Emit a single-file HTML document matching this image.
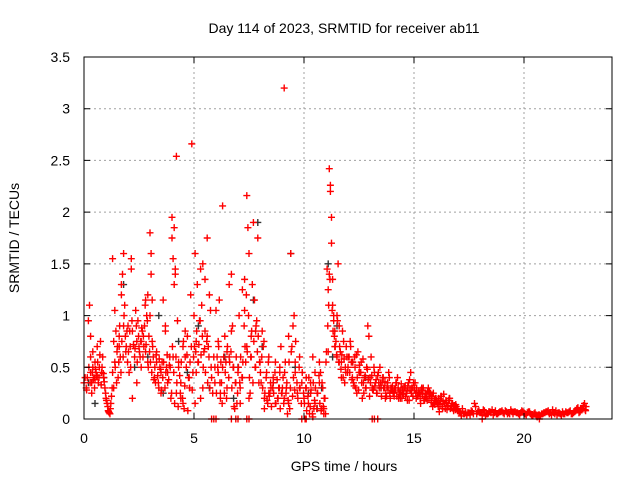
<!DOCTYPE html>
<html><head><meta charset="utf-8"><style>
body{margin:0;background:#fff}
svg text{font-family:"Liberation Sans",sans-serif;font-size:14px;fill:#000}
</style></head><body>
<svg id="chart" width="640" height="480" viewBox="0 0 640 480">
<rect width="640" height="480" fill="#fff"/>
<text x="344" y="33" text-anchor="middle">Day 114 of 2023, SRMTID for receiver ab11</text>
<g id="grid"></g>
<g id="blk"></g>
<g id="red"></g>
<rect x="84" y="57" width="528" height="362" fill="none" stroke="#000" stroke-width="1"/>
<g id="axes"></g>
<text x="344" y="471" text-anchor="middle">GPS time / hours</text>
<text transform="translate(19,238) rotate(-90)" text-anchor="middle">SRMTID / TECUs</text>
</svg>
<script>
const xTicks=[0,5,10,15,20];
const yTicks=[0,0.5,1,1.5,2,2.5,3,3.5];
const yTickLabels=["0","0.5","1","1.5","2","2.5","3","3.5"];
const redT=[0,0.1,0.15,0.2,0.25,0.3,0.3,0.35,0.4,0.45,0.5,0.55,0.6,0.65,0.7,0.75,0.8,0.85,0.9,0.95,0.3,0.35,0.4,0.5,0.6,
1.0,1.05,1.1,1.15,1.2,1.25,1.3,1.35,1.4,1.45,1.5,1.55,1.6,1.65,1.7,1.75,1.8,1.85,1.9,1.95,1.3,1.4,1.6,1.8,1.7,1.35,2.0,
2.05,2.1,2.15,2.2,2.3,2.4,2.45,2.5,2.55,2.6,2.7,2.75,2.8,2.85,2.9,2.95,2.2,2.4,2.6,2.8,2.9,2.65,2.15,2.35,
3.0,3.05,3.1,3.15,3.2,3.3,3.4,3.45,3.5,3.6,3.7,3.75,3.8,3.9,3.95,3.0,3.1,3.3,3.5,3.7,3.8,3.05,3.55,3.25,
4.0,4.05,4.1,4.15,4.2,4.25,4.3,4.4,4.5,4.55,4.6,4.7,4.8,4.85,4.9,4.95,4.0,4.1,4.2,4.3,4.5,4.6,4.75,4.05,4.15,4.4,
5.0,5.05,5.1,5.15,5.2,5.3,5.35,5.4,5.45,5.5,5.6,5.65,5.7,5.8,5.85,5.9,5.95,5.1,5.25,5.4,5.5,5.6,5.75,5.95,5.05,5.3,
6.0,6.05,6.1,6.15,6.2,6.25,6.3,6.4,6.45,6.5,6.6,6.7,6.75,6.8,6.9,6.95,6.1,6.3,6.5,6.6,6.7,6.85,6.2,
7.0,7.05,7.1,7.2,7.3,7.35,7.4,7.45,7.5,7.55,7.6,7.7,7.75,7.8,7.85,7.9,7.95,7.3,7.4,7.5,7.6,7.8,7.1,7.2,7.65,
8.0,8.05,8.1,8.2,8.3,8.35,8.4,8.5,8.6,8.7,8.8,8.85,8.9,8.95,8.2,8.4,8.6,8.7,8.9,8.15,8.45,
9.0,9.05,9.1,9.15,9.2,9.3,9.35,9.4,9.5,9.55,9.6,9.7,9.8,9.9,9.1,9.3,9.45,9.6,9.8,9.25,
10.0,10.1,10.2,10.25,10.3,10.4,10.45,10.5,10.6,10.7,10.8,10.85,10.9,10.95,10.1,10.3,10.5,10.7,10.9,10.4,10.75,
11.0,11.05,11.1,11.15,11.2,11.25,11.3,11.35,11.4,11.45,11.5,11.55,11.6,11.65,11.7,11.8,11.9,11.95,11.2,11.25,11.3,11.4,11.5,11.6,11.7,11.75,11.85,11.1,11.15,11.35,
12.0,12.1,12.2,12.3,12.4,12.5,12.6,12.7,12.8,12.9,12.05,12.25,12.45,12.65,12.85,12.15,12.35,12.55,12.75,12.95,
13.0,13.1,13.2,13.3,13.4,13.5,13.6,13.7,13.8,13.9,13.05,13.25,13.45,13.65,13.85,13.15,13.35,13.55,13.75,13.95,
14.0,14.1,14.2,14.3,14.4,14.5,14.6,14.7,14.8,14.9,14.05,14.25,14.45,14.65,14.85,14.15,14.35,14.55,14.75,14.95,
15.0,15.1,15.2,15.3,15.4,15.5,15.6,15.7,15.8,15.9,15.05,15.25,15.45,15.65,15.85,15.15,15.35,15.55,15.75,15.95,
16.0,16.1,16.2,16.3,16.4,16.5,16.6,16.7,16.8,16.9,16.05,16.25,16.45,16.65,16.85,16.15,16.35,16.55,16.75,16.95,
17.0,17.1,17.2,17.3,17.4,17.5,17.6,17.7,17.8,17.9,17.15,17.45,17.75,
18.0,18.1,18.2,18.3,18.4,18.5,18.6,18.7,18.8,18.9,18.25,18.55,18.85,
19.0,19.1,19.2,19.3,19.4,19.5,19.6,19.7,19.8,19.9,19.25,19.55,19.85,
20.0,20.1,20.2,20.3,20.4,20.5,20.6,20.7,20.8,20.9,20.25,20.55,
21.0,21.1,21.2,21.3,21.4,21.5,21.6,21.7,21.8,21.9,21.25,21.55,21.85,
22.0,22.1,22.2,22.3,22.4,22.5,22.6,22.7,22.8,22.15,22.45,22.75,22.65,
5.8,5.9,6.0,6.7,6.9,7.0,7.4,7.5,9.9,10.05,10.1,13.1,13.2,13.35,18.1,20.7];
const redV=[0.35,0.3,0.4,0.95,1.1,0.45,0.6,0.35,0.5,0.4,0.55,0.45,0.7,0.35,0.5,0.75,0.45,0.6,0.4,0.3,0.8,0.25,0.65,0.38,0.42,
0.2,0.15,0.08,0.06,0.1,0.22,0.45,0.75,0.55,0.85,0.65,0.4,0.8,0.6,1.2,1.4,0.9,1.1,0.65,0.85,1.55,1.05,0.7,1.6,1.3,0.3,
0.9,0.45,0.7,1.55,0.85,0.6,0.75,0.95,0.7,0.6,0.5,0.8,0.9,0.65,1.0,1.2,0.8,0.2,0.35,0.75,1.15,0.55,0.85,1.45,1.05,
1.8,1.4,1.15,0.6,0.4,0.55,0.3,0.5,0.45,1.15,0.9,0.5,0.35,0.6,0.2,1.0,0.75,0.65,0.25,0.85,0.45,1.6,0.55,0.35,
1.95,1.55,1.3,1.45,2.54,0.95,0.5,0.35,0.7,0.1,0.6,0.8,0.3,1.2,2.66,0.45,1.75,1.85,0.25,0.55,0.15,0.85,0.4,0.6,1.4,0.2,
1.0,1.6,0.75,1.3,0.55,1.45,1.1,1.5,0.65,0.85,1.75,0.7,1.2,0.4,0.25,0.6,0.35,0.45,0.95,0.3,1.35,0.8,1.05,0.5,0.15,0.2,
1.05,0.6,0.45,1.15,0.2,0.35,2.06,0.8,0.55,0.3,0.6,1.4,0.9,0.5,0.35,0.15,0.75,0.5,0.65,1.3,0.85,0.1,0.25,
0.45,1.0,0.3,1.25,1.35,0.55,2.16,1.85,1.6,0.25,0.8,1.9,1.15,0.5,0.95,1.75,0.35,1.05,0.7,0.2,0.6,0.85,0.15,0.4,1.3,
0.55,0.35,0.85,0.2,0.45,0.15,0.6,0.3,0.4,0.55,0.2,0.3,0.45,0.7,0.1,0.25,0.35,0.15,0.5,0.7,0.25,
0.25,0.4,3.2,0.55,0.3,0.8,0.1,1.6,0.9,1.0,0.45,0.25,0.6,0.35,0.2,0.15,0.7,0.55,0.3,0.05,
0.2,0.3,0.15,0.05,0.35,0.6,0.1,0.45,0.25,0.55,0.1,0.3,0.05,0.2,0.4,0.25,0.15,0.35,0.1,0.02,0.45,
0.55,1.45,1.25,2.42,2.2,1.7,1.35,1.0,0.85,0.75,0.6,1.5,0.9,0.65,0.55,0.75,0.45,0.6,2.26,1.95,1.1,0.7,1.0,0.55,0.4,0.85,0.35,0.65,1.4,0.95,
0.5,0.75,0.4,0.6,0.25,0.45,0.55,0.35,0.3,0.9,0.6,0.35,0.65,0.2,0.5,0.55,0.3,0.45,0.4,0.8,
0.4,0.3,0.45,0.25,0.35,0.3,0.4,0.2,0.35,0.25,0.6,0.35,0.5,0.3,0.45,0.28,0.42,0.35,0.22,0.3,
0.3,0.22,0.35,0.2,0.28,0.25,0.32,0.18,0.38,0.3,0.26,0.4,0.2,0.25,0.45,0.3,0.24,0.3,0.35,0.22,
0.3,0.2,0.25,0.15,0.28,0.22,0.18,0.26,0.2,0.15,0.35,0.25,0.18,0.3,0.12,0.22,0.3,0.2,0.25,0.14,
0.2,0.12,0.18,0.1,0.15,0.09,0.2,0.12,0.08,0.14,0.16,0.22,0.18,0.1,0.13,0.07,0.24,0.12,0.15,0.1,
0.08,0.06,0.1,0.05,0.04,0.06,0.08,0.05,0.12,0.07,0.03,0.06,0.15,
0.06,0.04,0.08,0.05,0.07,0.06,0.04,0.08,0.05,0.07,0.03,0.09,0.06,
0.08,0.05,0.07,0.06,0.09,0.05,0.07,0.06,0.04,0.08,0.05,0.07,0.06,
0.06,0.04,0.07,0.05,0.03,0.06,0.02,0.04,0.05,0.06,0.07,0.04,
0.07,0.08,0.06,0.09,0.05,0.04,0.06,0.03,0.05,0.07,0.04,0.06,0.05,
0.06,0.08,0.05,0.07,0.1,0.06,0.09,0.12,0.08,0.05,0.11,0.15,0.1,
0,0,0,0,0,0,0,0,0,0,0,0,0,0,0,0];
const redT2=[0.05,0.12,0.22,0.28,0.38,0.42,0.48,0.52,0.58,0.62,0.68,0.72,0.78,0.82,0.88,0.92,0.98,
1.02,1.08,1.12,1.18,1.22,1.28,1.42,1.48,1.52,1.58,1.62,1.68,1.72,1.78,1.82,1.88,1.92,1.98,
2.02,2.08,2.12,2.18,2.25,2.32,2.38,2.42,2.48,2.52,2.58,2.62,2.68,2.72,2.78,2.82,2.88,2.92,2.98,
3.02,3.08,3.12,3.18,3.22,3.28,3.35,3.38,3.42,3.48,3.52,3.58,3.62,3.68,3.72,3.78,3.85,3.88,3.92,3.98,
4.02,4.08,4.12,4.18,4.22,4.28,4.35,4.38,4.42,4.48,4.52,4.58,4.65,4.68,4.72,4.78,4.82,4.88,4.92,4.98,
5.02,5.08,5.12,5.18,5.22,5.28,5.32,5.38,5.42,5.48,5.52,5.58,5.62,5.68,5.72,5.78,
6.02,6.08,6.12,6.18,6.22,6.28,6.35,6.38,6.42,6.48,6.52,6.58,6.62,6.68,6.72,6.78,6.82,6.88,6.92,6.98,
7.02,7.08,7.12,7.18,7.22,7.28,7.32,7.38,7.42,7.48,7.52,7.58,7.62,7.68,7.72,7.78,7.82,7.88,7.92,7.98,
8.02,8.08,8.12,8.18,8.22,8.28,8.32,8.38,8.42,8.48,8.52,8.58,8.62,8.68,8.72,8.78,8.82,8.88,8.92,8.98,
9.02,9.08,9.12,9.18,9.22,9.28,9.32,9.38,9.42,9.48,9.52,9.58,9.62,9.68,9.72,9.78,9.82,9.88,9.92,9.98,
10.02,10.08,10.12,10.18,10.22,10.28,10.32,10.38,10.42,10.48,10.52,10.58,10.62,10.68,10.72,10.78,10.82,10.88,10.92,10.98,
11.02,11.08,11.12,11.18,11.28,11.32,11.38,11.42,11.48,11.52,11.58,11.62,11.68,11.72,11.78,11.82,11.88,11.92,11.98,
12.02,12.08,12.12,12.18,12.22,12.28,12.32,12.38,12.42,12.48,12.52,12.58,12.62,12.68,12.72,12.78,12.82,12.88,12.92,12.98,
13.02,13.08,13.12,13.18,13.22,13.28,13.32,13.38,13.42,13.48,13.52,13.58,13.62,13.68,13.72,13.78,13.82,13.88,13.92,13.98,
14.02,14.08,14.12,14.18,14.22,14.28,14.32,14.38,14.42,14.48,14.52,14.58,14.62,14.68,14.72,14.78,14.82,14.88,14.92,14.98,
15.02,15.08,15.12,15.18,15.22,15.28,15.32,15.38,15.42,15.48,15.52,15.58,15.62,15.68,15.72,15.78,15.82,15.88,15.92,15.98,
16.02,16.08,16.12,16.18,16.22,16.28,16.32,16.38,16.42,16.48,16.52,16.58,16.62,16.68,16.72,16.78,16.82,16.88,16.92,16.98,
17.05,17.25,17.35,17.55,17.65,17.85,17.95,18.05,18.15,18.35,18.45,18.65,18.75,18.95,19.05,19.15,19.35,19.45,19.65,19.75,19.95,
20.05,20.15,20.35,20.45,20.65,20.75,20.85,20.95,21.05,21.15,21.35,21.45,21.65,21.75,21.95,22.05,22.25,22.35,22.55,22.7,22.78,22.82];
const redV2=[0.4,0.28,0.5,0.35,0.45,0.38,0.3,0.48,0.42,0.55,0.4,0.62,0.33,0.5,0.44,0.36,0.25,
0.18,0.12,0.07,0.05,0.15,0.3,0.5,0.35,0.7,0.55,0.9,0.45,0.75,0.6,1.0,0.8,0.7,0.55,
0.65,0.85,0.5,0.95,0.72,0.68,0.9,0.55,0.8,0.65,0.75,0.88,0.6,0.7,1.1,0.72,0.95,0.5,0.65,
0.55,0.45,0.7,0.38,0.5,0.62,0.42,0.35,0.58,0.48,0.28,0.4,0.55,0.3,0.45,0.62,0.38,0.52,0.5,0.25,
0.7,0.45,0.15,0.6,0.35,0.12,0.42,0.25,0.55,0.2,0.75,0.32,0.5,0.62,0.08,0.4,0.55,0.7,0.28,0.6,
0.7,0.65,0.85,0.55,0.72,0.95,0.62,0.8,0.5,0.68,0.45,0.75,0.35,0.6,0.3,0.5,
0.25,0.5,0.7,0.35,0.55,0.15,0.6,0.25,0.45,0.2,0.7,0.4,0.55,0.65,0.3,0.5,0.12,0.35,0.6,0.25,
0.5,0.35,0.6,0.4,0.55,0.9,0.7,1.2,0.65,1.0,0.4,0.6,0.85,0.35,0.75,0.5,0.9,0.65,0.8,0.55,
0.45,0.6,0.3,0.75,0.25,0.4,0.18,0.55,0.22,0.35,0.12,0.3,0.25,0.45,0.15,0.38,0.2,0.3,0.1,0.25,
0.3,0.15,0.45,0.25,0.35,0.18,0.55,0.3,0.65,0.22,0.4,0.28,0.75,0.35,0.2,0.5,0.3,0.15,0.45,0.25,
0.15,0.3,0.08,0.22,0.4,0.12,0.28,0.05,0.35,0.18,0.3,0.1,0.25,0.42,0.15,0.08,0.35,0.12,0.2,0.05,
0.65,0.9,1.1,1.35,1.05,0.85,0.8,0.7,0.62,0.95,0.55,0.7,0.48,0.62,0.4,0.58,0.5,0.7,0.45,
0.6,0.45,0.7,0.38,0.55,0.32,0.5,0.62,0.4,0.28,0.52,0.45,0.35,0.58,0.25,0.42,0.3,0.48,0.38,0.22,
0.35,0.42,0.28,0.5,0.32,0.38,0.25,0.45,0.3,0.35,0.22,0.4,0.3,0.36,0.25,0.32,0.28,0.4,0.2,0.3,
0.32,0.25,0.28,0.35,0.22,0.3,0.26,0.2,0.34,0.28,0.24,0.3,0.22,0.27,0.32,0.18,0.28,0.25,0.3,0.35,
0.28,0.25,0.3,0.22,0.26,0.2,0.28,0.24,0.3,0.18,0.25,0.22,0.27,0.2,0.24,0.16,0.22,0.25,0.18,0.2,
0.18,0.15,0.2,0.14,0.22,0.12,0.17,0.15,0.1,0.16,0.13,0.18,0.2,0.12,0.15,0.1,0.13,0.09,0.12,0.08,
0.07,0.05,0.06,0.04,0.07,0.05,0.08,0.06,0.09,0.05,0.07,0.06,0.05,0.07,0.06,0.08,0.05,0.07,0.06,0.05,0.07,
0.05,0.06,0.04,0.05,0.04,0.03,0.05,0.06,0.07,0.05,0.06,0.08,0.05,0.07,0.06,0.07,0.06,0.08,0.07,0.13,0.09,0.12];
const blkT=[0.2,0.9,1.8,2.3,2.9,3.4,4.3,4.7,5.2,5.7,6.4,7.0,7.9,8.1,8.6,9.4,9.6,10.2,10.8,11.1,11.5,12.2,12.8,13.5,0.5,3.6,6.8,7.7,10.6,11.3];
const blkV=[0.35,0.4,1.3,0.5,0.6,1.0,0.75,0.45,0.9,0.3,0.6,0.5,1.9,0.7,0.35,1.6,0.5,0.25,0.3,1.5,0.9,0.55,0.4,0.3,0.15,0.25,0.2,1.15,0.1,0.6];
const X0=84,X1=612,Y0=419,Y1=57,XMAX=24,YMAX=3.5;
const sx=v=>X0+v*(X1-X0)/XMAX, sy=v=>Y0-v*(Y0-Y1)/YMAX;
const NS="http://www.w3.org/2000/svg";
const grid=document.getElementById('grid'),axes=document.getElementById('axes');
function mk(tag,attrs,parent){const e=document.createElementNS(NS,tag);for(const k in attrs)e.setAttribute(k,attrs[k]);parent.appendChild(e);return e;}
xTicks.forEach(t=>{const x=sx(t);
 if(t>0){const g=mk('line',{x1:x,x2:x,y1:Y0,y2:Y1,stroke:'#a0a0a0','stroke-dasharray':'2,3'},grid);
 
 }
 const tk=mk('path',{d:`M${x},${Y0}v-6M${x},${Y1}v6`,stroke:'#000'},axes);
 
 
 const l=mk('text',{x:x,y:443,'text-anchor':'middle'},axes);l.textContent=String(t);
 
 });
yTicks.forEach((t,i)=>{const y=sy(t);
 if(t>0&&t<YMAX){const g=mk('line',{x1:X0,x2:X1,y1:y,y2:y,stroke:'#a0a0a0','stroke-dasharray':'2,3'},grid);
 
 }
 const tk=mk('path',{d:`M${X0},${y}h6M${X1},${y}h-6`,stroke:'#000'},axes);
 
 
 const l=mk('text',{x:70,y:y+5,'text-anchor':'end'},axes);l.textContent=yTickLabels[i];
 
 });
function plot(T,V,g,color,name){let d='';T.forEach((t,i)=>{const x=sx(t),y=sy(V[i]);d+=`M${x-3.5},${y}h7M${x},${y-3.5}v7`;});
 const p=mk('path',{d:d,stroke:color,'stroke-width':1.4,fill:'none'},g);
 
 }
plot(blkT,blkV,document.getElementById('blk'),'#333','black-points');
plot(redT,redV,document.getElementById('red'),'#f00','red-points');
plot(redT2,redV2,document.getElementById('red'),'#f00','red-points-extra');
</script>
</body></html>
